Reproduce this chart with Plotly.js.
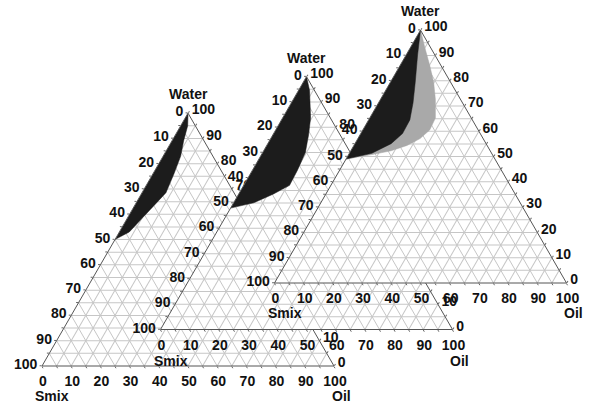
<!DOCTYPE html>
<html><head><meta charset="utf-8">
<script src="https://cdn.plot.ly/plotly-3.0.1.min.js"></script>
<style>html,body{margin:0;padding:0;background:#fff}#chart{width:589px;height:403px}</style>
</head><body><div id="chart"></div>
<script>
// ---- data ----
const axisTitles = ['Water', 'Smix', 'Oil'];
const tickVals = [0,5,10,15,20,25,30,35,40,45,50,55,60,65,70,75,80,85,90,95,100];
const tickText = ['100','','90','','80','','70','','60','','50','','40','','30','','20','','10','','0'];

// Diagram 1 (back) – black region
const d1Water = [100, 95, 89, 83, 76, 68.5, 64, 58.5, 53, 50];
const d1Oil   = [0, 2.4, 4, 6, 7.2, 8.2, 6.8, 5.1, 3.4, 0];
// Diagram 2 (middle) – black region
const d2Water = [100, 94.5, 83.6, 76.8, 70, 63.1, 57, 53.6, 50.1, 48];
const d2Oil   = [0, 3.8, 9.6, 12.3, 14.6, 15.4, 15.7, 11.9, 6.9, 0];
// Diagram 3 (front) – grey region and black region
const d3GreyWater = [100, 93, 86.1, 79.4, 72.6, 65.2, 60.5, 57.1, 54.4, 52.3, 51, 49];
const d3GreyOil   = [0, 5, 10.1, 14.8, 18.8, 22.5, 22.9, 21.3, 18.2, 13.8, 8.9, 0];
const d3BlackWater = [100, 90.2, 79.4, 71.3, 64.5, 59.1, 55.1, 51.3, 49];
const d3BlackOil   = [0, 3.9, 8.5, 11.8, 14.1, 14.3, 12.4, 7.7, 0];

// ---- layout geometry ----
const W = 589, H = 403;
const TRI_W = 292, TRI_H = TRI_W * Math.sqrt(3) / 2;
const bases = [[188, 366], [306.5, 329.5], [420.5, 283]];   // centre x, base y (px)
const titleDrop = [30, 31, 30];
const FONT = 'Liberation Sans, Arial, sans-serif';

function smix(w, o) { return w.map((v, i) => 100 - v - o[i]); }

function axisCfg() {
  return {
    tickmode: 'array', tickvals: tickVals, ticktext: tickText,
    ticks: 'outside', ticklen: 2, tickcolor: '#666',
    showgrid: true, gridcolor: '#c6c6c6', gridwidth: 1,
    showline: true, linecolor: '#555', linewidth: 1,
    tickfont: {family: FONT, size: 14, color: '#111', weight: 'bold'},
    title: {text: ''}
  };
}
function tern(c) {
  const [cx, by] = c;
  return {
    sum: 100, bgcolor: '#ffffff',
    domain: {x: [(cx - TRI_W/2)/W, (cx + TRI_W/2)/W], y: [1 - by/H, 1 - (by - TRI_H)/H]},
    aaxis: axisCfg(), baxis: axisCfg(), caxis: axisCfg()
  };
}

function region(sub, water, oil, color) {
  return {
    type: 'scatterternary', subplot: sub, mode: 'lines', fill: 'toself',
    a: water, b: smix(water, oil), c: oil,
    fillcolor: color, line: {color: color, width: 0.5},
    hoverinfo: 'skip', showlegend: false
  };
}

const traces = [
  region('ternary', d1Water, d1Oil, '#1c1c1c'),
  region('ternary2', d2Water, d2Oil, '#1c1c1c'),
  region('ternary3', d3GreyWater, d3GreyOil, '#a9a9a9'),
  region('ternary3', d3BlackWater, d3BlackOil, '#1c1c1c')
];

const annotations = [];
bases.forEach(([cx, by], k) => {
  const top = by - TRI_H;
  const ty = Math.min(by + titleDrop[k], 396);
  const pts = [[cx, top - 19], [cx - TRI_W/2 + 10, ty], [cx + TRI_W/2 + 7, ty]];
  pts.forEach((p, i) => annotations.push({
    xref: 'paper', yref: 'paper', x: p[0]/W, y: 1 - p[1]/H,
    xanchor: 'center', yanchor: 'middle', showarrow: false,
    text: axisTitles[i], font: {family: FONT, size: 14, color: '#111', weight: 'bold'}
  }));
});

const layout = {
  width: W, height: H, margin: {l: 0, r: 0, t: 0, b: 0},
  paper_bgcolor: '#fff', showlegend: false,
  ternary: tern(bases[0]), ternary2: tern(bases[1]), ternary3: tern(bases[2]),
  annotations: annotations
};
Plotly.newPlot('chart', traces, layout, {displayModeBar: false, staticPlot: true});
</script>
</body></html>
